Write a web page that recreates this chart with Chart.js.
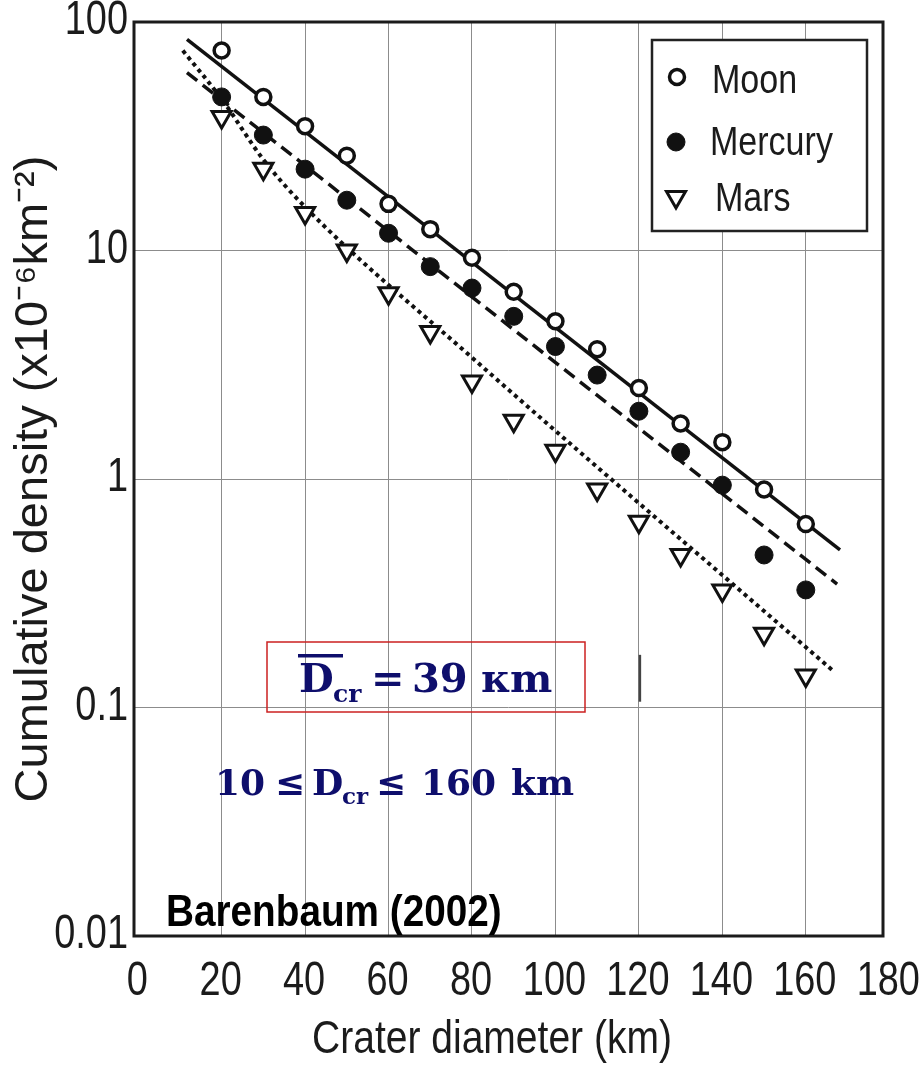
<!DOCTYPE html>
<html>
<head>
<meta charset="utf-8">
<script src="https://cdn.jsdelivr.net/npm/chart.js@4"></script>
<style>
  html, body { margin: 0; padding: 0; background: #fff; }
  canvas { display: block; }
</style>
</head>
<body>
<canvas id="c" width="920" height="1077"></canvas>
<script>
(function(){

    "use strict"

    // fonts and colours
    const SANS = '"Liberation Sans", Arial, sans-serif';
    const SERIF = '"DejaVu Serif", serif';
    const INK = '#1b1b1b';
    const NAVY = '#0e0e6c';

    // crater diameters (km) and cumulative densities (x10^-6 km^-2)
    const diameters = [20, 30, 40, 50, 60, 70, 80, 90, 100, 110, 120, 130, 140, 150, 160];
    const moon = [75, 47, 35, 26, 16, 12.4, 9.3, 6.6, 4.9, 3.7, 2.5, 1.75, 1.45, 0.9, 0.635];
    const mercury = [47, 32, 22.7, 16.6, 11.9, 8.5, 6.85, 5.15, 3.8, 2.85, 1.98, 1.31, 0.94, 0.465, 0.327];
    const mars = [38.4, 22.8, 14.6, 10, 6.5, 4.4, 2.67, 1.8, 1.33, 0.9, 0.65, 0.465, 0.325, 0.21, 0.138];

    // fitted lines
    const moonFitX = [11.7, 168.2];
    const moonFitY = [84, 0.49];
    const mercuryFitX = [11.7, 167.5];
    const mercuryFitY = [60, 0.347];
    const marsFitX = [10.7, 20, 30, 40, 80, 166.3];
    const marsFitY = [75, 46, 25, 15.5, 3.4, 0.146];

    // axis ticks
    const xTicks = [0, 20, 40, 60, 80, 100, 120, 140, 160, 180];
    const yTicks = [0.01, 0.1, 1, 10, 100];

    const toXY = (xs, ys) => xs.map((x, i) => ({x: x, y: ys[i]}));

    // text squeezed horizontally (condensed look)
    function narrowText(ctx, text, x, y, align, sx) {
        ctx.save();
        ctx.translate(x, y);
        ctx.scale(sx, 1);
        ctx.textAlign = align;
        ctx.fillText(text, 0, 0);
        ctx.restore();
    }

    // black frame round the plot area
    const framePlugin = {
        id: 'frame',
        afterDatasetsDraw(chart) {
            const a = chart.chartArea;
            const ctx = chart.ctx;
            ctx.save();
            ctx.strokeStyle = INK;
            ctx.lineWidth = 3;
            ctx.strokeRect(a.left, a.top, a.right - a.left, a.bottom - a.top);
            ctx.restore();
        }
    };

    // tick labels and x title, drawn condensed from the scales
    const axisTextPlugin = {
        id: 'axisText',
        afterDraw(chart) {
            const ctx = chart.ctx;
            const xs = chart.scales.x;
            const ys = chart.scales.y;
            ctx.save();
            ctx.fillStyle = INK;
            ctx.textBaseline = 'middle';
            ctx.font = '48px ' + SANS;
            xTicks.forEach(v => narrowText(ctx, String(v), xs.getPixelForValue(v) - 1, 982, 'center', 0.79));
            yTicks.forEach(v => narrowText(ctx, String(v), 128, ys.getPixelForValue(v) - 1, 'right', 0.79));
            ctx.font = '47px ' + SANS;
            narrowText(ctx, 'Crater diameter (km)', 492, 1040, 'center', 0.83);
            ctx.restore();
        }
    };

    // legend box, source note and the D_cr labels
    const notesPlugin = {
        id: 'notes',
        afterDraw(chart) {
            const ctx = chart.ctx;
            const xs = chart.scales.x;
            const ys = chart.scales.y;
            ctx.save();
            ctx.textBaseline = 'alphabetic';
            ctx.textAlign = 'left';

            // legend
            ctx.fillStyle = '#fff';
            ctx.fillRect(652, 40, 215, 191);
            ctx.strokeStyle = '#222';
            ctx.lineWidth = 2.5;
            ctx.strokeRect(652, 40, 215, 191);

            const sets = chart.data.datasets.slice(0, 3);
            const rows = [
                {mx: 677, my: 77, tx: 712, ty: 93},
                {mx: 676, my: 142, tx: 710, ty: 155},
                {mx: 676, my: 197, tx: 715, ty: 211}
            ];
            sets.forEach((ds, i) => {
                const r = rows[i];
                ctx.lineWidth = ds.pointBorderWidth;
                ctx.strokeStyle = ds.pointBorderColor;
                ctx.fillStyle = ds.pointBackgroundColor;
                Chart.helpers.drawPoint(ctx, {
                    pointStyle: ds.pointStyle,
                    radius: ds.pointRadius,
                    rotation: ds.pointRotation || 0,
                    borderWidth: ds.pointBorderWidth
                }, r.mx, r.my);
                ctx.fillStyle = INK;
                ctx.font = '41px ' + SANS;
                narrowText(ctx, ds.label, r.tx, r.ty, 'left', 0.83);
            });

            // source
            ctx.fillStyle = '#000';
            ctx.font = 'bold 44px ' + SANS;
            narrowText(ctx, 'Barenbaum (2002)', 166, 926, 'left', 0.88);

            // darker segment on the 120 km grid line
            ctx.strokeStyle = '#444';
            ctx.lineWidth = 2.5;
            ctx.beginPath();
            ctx.moveTo(xs.getPixelForValue(120) + 1, ys.getPixelForValue(0.17));
            ctx.lineTo(xs.getPixelForValue(120) + 1, ys.getPixelForValue(0.106));
            ctx.stroke();

            // mean crater diameter box
            ctx.strokeStyle = '#cc2020';
            ctx.lineWidth = 1.5;
            ctx.strokeRect(267, 642, 318, 70);

            ctx.fillStyle = NAVY;
            ctx.font = 'bold 40px ' + SERIF;
            ctx.fillText('D', 299, 692);
            ctx.fillRect(298, 654, 45, 3.5);
            ctx.font = 'bold 25px ' + SERIF;
            ctx.fillText('cr', 333, 702);
            ctx.font = 'bold 40px ' + SERIF;
            ctx.fillText('=', 371, 692);
            ctx.fillText('39', 412, 692);
            ctx.fillText('\u043Am', 481, 692);

            // diameter range
            ctx.font = 'bold 36px ' + SERIF;
            ctx.fillText('10', 215, 795);
            ctx.fillText('\u2264', 275, 795);
            ctx.fillText('D', 312, 795);
            ctx.font = 'bold 23px ' + SERIF;
            ctx.fillText('cr', 342, 804);
            ctx.font = 'bold 36px ' + SERIF;
            ctx.fillText('\u2264', 376, 795);
            ctx.fillText('160', 421, 795);
            ctx.fillText('km', 511, 795);

            ctx.restore();
        }
    };

    const chart = new Chart(document.getElementById('c'), {
        type: 'scatter',
        data: {
            datasets: [{
                label: 'Moon',
                data: toXY(diameters, moon),
                pointStyle: 'circle',
                pointRadius: 7.5,
                pointBorderWidth: 3.5,
                pointBorderColor: '#111',
                pointBackgroundColor: '#fff'
            }, {
                label: 'Mercury',
                data: toXY(diameters, mercury),
                pointStyle: 'circle',
                pointRadius: 9,
                pointBorderWidth: 1,
                pointBorderColor: '#111',
                pointBackgroundColor: '#111'
            }, {
                label: 'Mars',
                data: toXY(diameters, mars),
                pointStyle: 'triangle',
                pointRotation: 180,
                pointRadius: 11,
                pointBorderWidth: 3,
                pointBorderColor: '#111',
                pointBackgroundColor: '#fff'
            }, {
                label: 'Moon fit',
                data: toXY(moonFitX, moonFitY),
                showLine: true,
                pointRadius: 0,
                borderColor: '#111',
                borderWidth: 3.5
            }, {
                label: 'Mercury fit',
                data: toXY(mercuryFitX, mercuryFitY),
                showLine: true,
                pointRadius: 0,
                borderColor: '#111',
                borderWidth: 3.5,
                borderDash: [13, 7]
            }, {
                label: 'Mars fit',
                data: toXY(marsFitX, marsFitY),
                showLine: true,
                cubicInterpolationMode: 'monotone',
                pointRadius: 0,
                borderColor: '#111',
                borderWidth: 4,
                borderDash: [4, 4]
            }]
        },
        options: {
            responsive: false,
            animation: false,
            layout: { padding: { top: 22, right: 37, left: 0, bottom: 0 } },
            plugins: {
                legend: { display: false },
                tooltip: { enabled: false }
            },
            scales: {
                x: {
                    type: 'linear',
                    min: -1,
                    max: 178.5,
                    afterBuildTicks: s => { s.ticks = xTicks.filter(v => v <= 178.5).map(v => ({value: v})); },
                    afterFit: s => { s.height = 141; },
                    grid: {
                        drawTicks: false,
                        lineWidth: 1,
                        color: c => (c.tick && c.tick.value === 0) ? 'rgba(0,0,0,0)' : '#8c8c8c'
                    },
                    border: { display: false },
                    ticks: { display: false },
                    title: { display: false }
                },
                y: {
                    type: 'logarithmic',
                    min: 0.01,
                    max: 100,
                    afterBuildTicks: s => { s.ticks = yTicks.map(v => ({value: v})); },
                    afterFit: s => { s.width = 134; },
                    grid: { drawTicks: false, lineWidth: 1, color: '#8c8c8c' },
                    border: { display: false },
                    ticks: { display: false },
                    title: {
                        display: true,
                        text: 'Cumulative density (x10\u207B\u2076km\u207B\u00B2)',
                        color: INK,
                        padding: { top: 6, bottom: 0 },
                        font: { family: SANS, size: 47 }
                    }
                }
            }
        },
        plugins: [framePlugin, axisTextPlugin, notesPlugin]
    });

}());
</script>
</body>
</html>
